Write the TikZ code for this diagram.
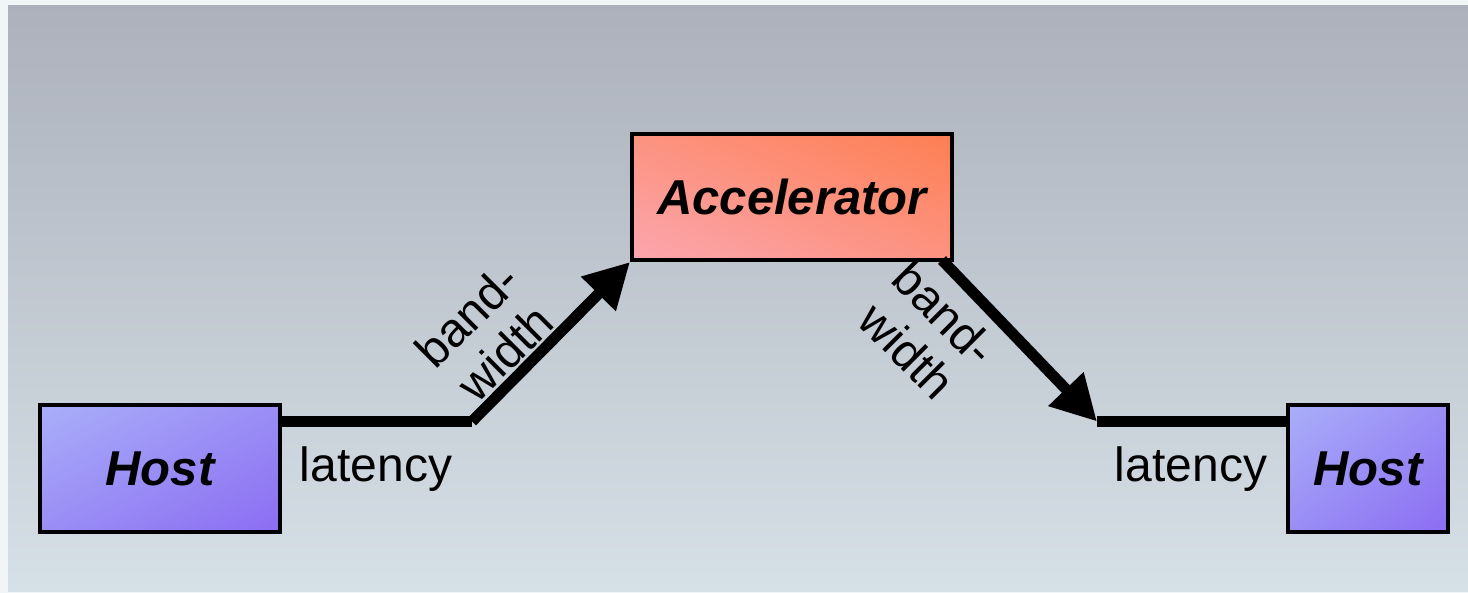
\documentclass[tikz,border=0pt]{standalone}
\usepackage{fontspec}
\setmainfont{Liberation Sans}
\usetikzlibrary{arrows.meta}
\pgfdeclarelayer{backdrop}
\pgfdeclarelayer{boxfill}
\pgfsetlayers{backdrop,boxfill,main}
\definecolor{bgpale}{HTML}{F0F6F8}
\definecolor{bgtop}{HTML}{ACB1BB}
\definecolor{bgbot}{HTML}{D6E0E7}
\definecolor{hostlight}{HTML}{A9AEF9}
\definecolor{hostdark}{HTML}{8B6DF2}
\definecolor{accpink}{HTML}{FCA6AF}
\definecolor{accorange}{HTML}{FD7F52}
% two-colour ramps whose end colours sit exactly on opposite corners
% of a square once the ramp is turned by 45 degrees
\pgfdeclareverticalshading{hostshade}{100bp}{color(0bp)=(hostdark); color(14.64bp)=(hostdark);
  color(85.36bp)=(hostlight); color(100bp)=(hostlight)}
\pgfdeclareverticalshading{accshade}{100bp}{color(0bp)=(accpink); color(14.64bp)=(accpink);
  color(85.36bp)=(accorange); color(100bp)=(accorange)}
% corner-to-corner fill: shade a square, then stretch it onto the box
% #1 node, #2 shading, #3 angle, #4 width, #5 height (pt)
\newcommand\cornerfill[5]{%
  \begin{scope}[transform canvas={shift={(#1.center)}, xscale=#4/100, yscale=#5/100}]
    \shade[shading=#2, shading angle=#3] (-50pt,-50pt) rectangle (50pt,50pt);
  \end{scope}}
\tikzset{
  box/.style={draw=black, line width=4pt, inner sep=0pt,
    font=\fontsize{49}{52}\selectfont\bfseries\itshape},
  hostbox/.style={box, minimum width=#1pt, minimum height=127pt},
  accbox/.style={box, minimum width=320pt, minimum height=126pt},
  wire/.style={line width=11pt, line cap=butt},
  arrowwire/.style={wire, -{Triangle[length=45pt, width=46pt]}},
  lbl/.style={font=\fontsize{48}{52}\selectfont, inner sep=0pt},
  bwlbl/.style={lbl, align=center, font=\fontsize{48}{53}\selectfont}
}
\begin{document}
\begin{tikzpicture}[x=1pt, y=-1pt]
  \useasboundingbox (0,0) rectangle (1468,593);
  % backdrop
  \begin{pgfonlayer}{backdrop}
    \fill[bgpale] (0,0) rectangle (1468,593);
    \shade[top color=bgtop, bottom color=bgbot] (8,6) rectangle (1468,591);
  \end{pgfonlayer}

  % boxes
  \node[hostbox=240] (hostL) at (160,468.5) {Host};
  \node[accbox] (acc) at (792,197) {Accelerator};
  \node[hostbox=160] (hostR) at (1368,468.5) {Host};

  % their diagonal colour ramps, behind the outlines and labels
  \begin{pgfonlayer}{boxfill}
    \cornerfill{hostL}{hostshade}{45}{240}{127}
    \cornerfill{acc}{accshade}{-45}{320}{126}
    \cornerfill{hostR}{hostshade}{45}{160}{127}
  \end{pgfonlayer}

  % bends of the links
  \coordinate (bendL) at (472,421.5);
  \coordinate (bendR) at (1097,421.5);
  \coordinate (accOut) at ([xshift=-12pt, yshift=2pt]acc.south east);

  % host -> accelerator
  \draw[wire] (hostL.east |- bendL) -- (bendL);
  \draw[arrowwire] (bendL) -- (acc.south west);

  % accelerator -> host
  \draw[arrowwire] (accOut) -- (bendR);
  \draw[wire] (bendR) -- (hostR.west |- bendR);

  % labels
  \node[lbl, anchor=base] (latL) at (376,482) {latency};
  \node[lbl, anchor=base] (latR) at (1191,482) {latency};
  \node[bwlbl, rotate=45] (bwL) at (486,334) {band-\\width};
  \node[bwlbl, rotate=-45] (bwR) at (926,332) {band-\\width};
\end{tikzpicture}
\end{document}
